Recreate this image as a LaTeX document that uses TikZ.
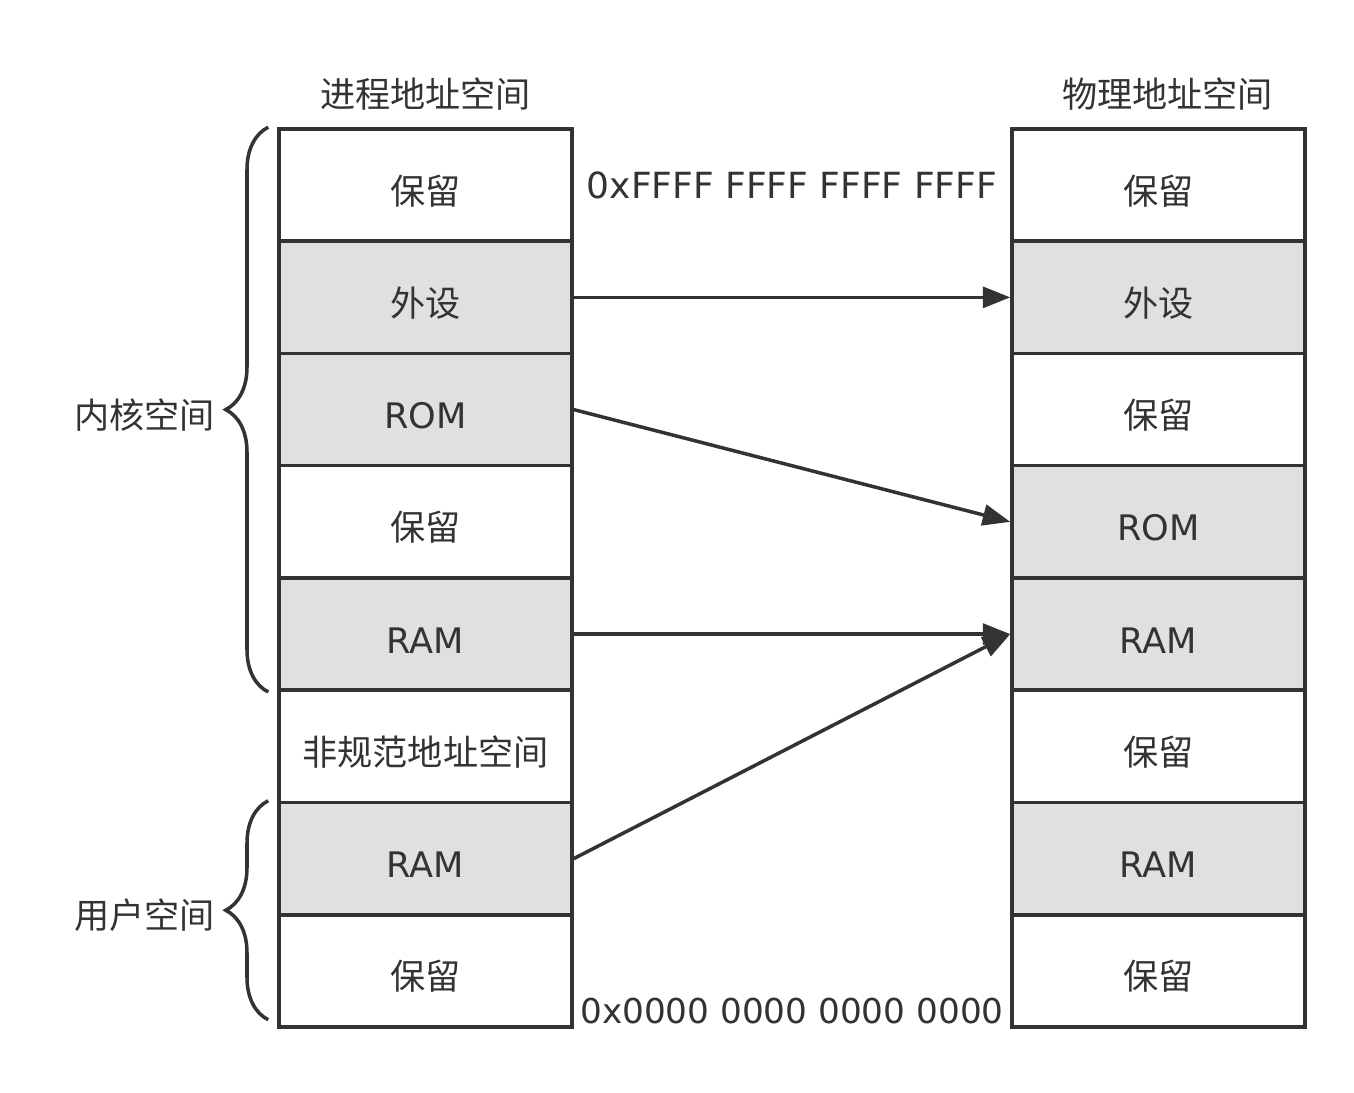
\documentclass[tikz,border=0pt]{standalone}
\usepackage{fontspec}
\setmainfont{DejaVu Sans}
\newfontfamily\cjk{Noto Sans CJK SC}
\usepackage{xcolor}
\usetikzlibrary{positioning, calc, arrows.meta, decorations.pathreplacing}
\definecolor{linegray}{HTML}{333333}
\definecolor{fillgray}{HTML}{E0E0E0}
\tikzset{
  region/.style={draw=linegray, line width=2pt, minimum width=5.86cm, minimum height=2.245cm,
    text=linegray, font=\fontsize{20}{24}\selectfont, text height=0.76cm, text depth=0cm},
  used/.style={region, fill=fillgray},
  free/.style={region, fill=white},
  maparrow/.style={draw=linegray, line width=2pt, -{Triangle[length=0.55cm,width=0.42cm]}},
  spacebrace/.style={draw=linegray, line width=2pt, decorate, decoration={brace, amplitude=0.85cm}},
  plain/.style={text=linegray, font=\fontsize{20}{24}\selectfont},
}

\begin{document}
\begin{tikzpicture}[node distance=2.245cm]
        \useasboundingbox (0,0) rectangle (27.08,-21.84);

        % virtual address space
        \node (v1) [free] at (8.51,-3.702) {\cjk 保留};
        \node (v2) [used, below of=v1]     {\cjk 外设};
        \node (v3) [used, below of=v2]     {ROM};
        \node (v4) [free, below of=v3]     {\cjk 保留};
        \node (v5) [used, below of=v4]     {RAM};
        \node (v6) [free, below of=v5]     {\cjk 非规范地址空间};
        \node (v7) [used, below of=v6]     {RAM};
        \node (v8) [free, below of=v7]     {\cjk 保留};

        % physical address space
        \node (p1) [free] at (23.17,-3.702) {\cjk 保留};
        \node (p2) [used, below of=p1]      {\cjk 外设};
        \node (p3) [free, below of=p2]      {\cjk 保留};
        \node (p4) [used, below of=p3]      {ROM};
        \node (p5) [used, below of=p4]      {RAM};
        \node (p6) [free, below of=p5]      {\cjk 保留};
        \node (p7) [used, below of=p6]      {RAM};
        \node (p8) [free, below of=p7]      {\cjk 保留};

        \node (vtitle) [plain, above=0.22cm of v1]             {\cjk 进程地址空间};
        \node (ptitle) [plain, above=0.22cm of p1, xshift=0.18cm] {\cjk 物理地址空间};

        \node (top) [plain, font=\fontsize{20.5}{24}\selectfont] at ($(v1)!0.5!(p1)$) {0xFFFF FFFF FFFF FFFF};
        \node (bot) [plain, font=\fontsize{19.5}{24}\selectfont, yshift=-0.8cm] at ($(v8)!0.5!(p8)$) {0x0000 0000 0000 0000};

        \draw[maparrow] (v2.east) -- (p2.west);
        \draw[maparrow] (v3.east) -- (p4.west);
        \draw[maparrow] (v5.east) -- (p5.west);
        \draw[maparrow] (v7.east) -- (p5.west);

        % kernel / user braces
        \coordinate (kbot) at ($(v5.south west)+(-0.18,0)$);
        \coordinate (ktop) at ($(v1.north west)+(-0.18,0)$);
        \coordinate (ubot) at ($(v8.south west)+(-0.18,0.18)$);
        \coordinate (utop) at ($(v7.north west)+(-0.18,0)$);

        \draw[spacebrace] (kbot) -- node[plain, midway, left=0.92cm, yshift=-0.1cm] {\cjk 内核空间} (ktop);
        \draw[spacebrace] (ubot) -- node[plain, midway, left=0.92cm, yshift=-0.1cm] {\cjk 用户空间} (utop);
    \end{tikzpicture}
\end{document}
